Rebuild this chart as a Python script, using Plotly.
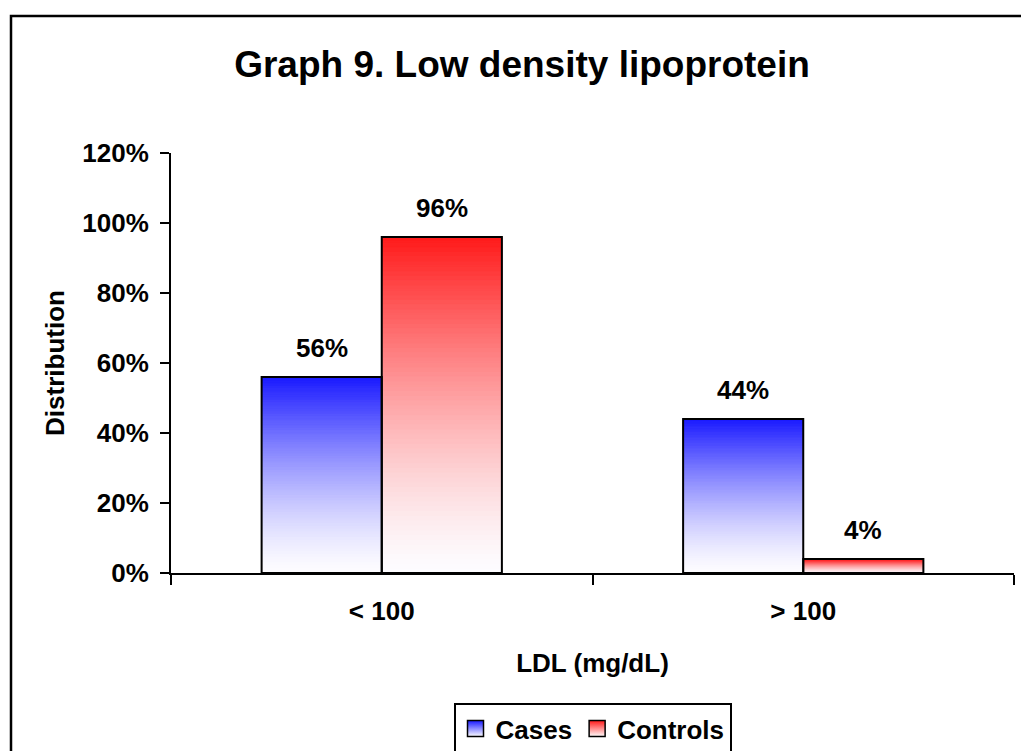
import plotly.graph_objects as go

# ---- data ----
categories = ["< 100", "> 100"]
cases = [0.56, 0.44]
controls = [0.96, 0.04]
series_names = ["Cases", "Controls"]
y_ticks = [0, 0.2, 0.4, 0.6, 0.8, 1.0, 1.2]

# ---- styling ----
FONT = "Arial, 'Liberation Sans', sans-serif"
TOP_COLORS = {"Cases": (26, 26, 255), "Controls": (255, 26, 26)}
BOTTOM = (253, 252, 255)
N_SLICES = 70
GAMMA = 1.4


def mix(top, f):
    f = max(0.0, min(1.0, f)) ** GAMMA
    return "rgb(%d,%d,%d)" % tuple(round(BOTTOM[i] + (top[i] - BOTTOM[i]) * f) for i in range(3))


fig = go.Figure()

for name, vals in zip(series_names, [cases, controls]):
    top = TOP_COLORS[name]
    for k in range(N_SLICES):
        f = (k + 0.5) / N_SLICES
        col = mix(top, f)
        fig.add_trace(go.Bar(
            x=categories,
            y=[v / N_SLICES for v in vals],
            base=[v * k / N_SLICES for v in vals],
            offsetgroup=name,
            marker=dict(color=col, line=dict(color=col, width=1)),
            showlegend=False,
            hoverinfo="skip",
        ))

# outlines
for name, vals in zip(series_names, [cases, controls]):
    fig.add_trace(go.Bar(
        x=categories,
        y=vals,
        offsetgroup=name,
        marker=dict(color="rgba(0,0,0,0)", line=dict(color="black", width=2)),
        showlegend=False,
        name=name,
    ))

# legend entries (colour at top, fading to white at bottom)
for name in series_names:
    top = TOP_COLORS[name]
    fig.add_trace(go.Scatter(
        x=[None], y=[None], mode="markers", name=name,
        marker=dict(symbol="square", size=20, color="rgb(%d,%d,%d)" % top,
                    gradient=dict(type="vertical", color="white"),
                    line=dict(color="black", width=1.5)),
    ))

# data labels
for name, vals, shift in zip(series_names, [cases, controls], [-60, 60]):
    for c, v in zip(categories, vals):
        fig.add_annotation(
            x=c, y=v, text="%d%%" % round(v * 100), showarrow=False,
            xshift=shift, yshift=12, yanchor="bottom",
            font=dict(family=FONT, size=26, color="black", weight="bold"),
        )

# outer border (left & top visible)
fig.add_shape(type="rect", xref="paper", yref="paper",
              x0=(11 - 171) / 843, x1=(1040 - 171) / 843,
              y0=(573 - 780) / 420, y1=(573 - 16) / 420,
              line=dict(color="black", width=2.5), fillcolor="rgba(0,0,0,0)")

fig.update_layout(
    width=1021, height=751,
    margin=dict(l=171, r=7, t=153, b=178, autoexpand=False),
    paper_bgcolor="white", plot_bgcolor="white",
    barmode="group", bargap=0.43, bargroupgap=0,
    font=dict(family=FONT, size=26, color="black", weight="bold"),
    title=dict(text="Graph 9. Low density lipoprotein",
               x=522 / 1021, xref="container", xanchor="center",
               y=(751 - 64) / 751, yref="container", yanchor="middle",
               font=dict(family=FONT, size=37, color="black", weight="bold")),
    showlegend=True,
    legend=dict(orientation="h", x=0.5, xanchor="center", y=-0.31, yanchor="top",
                bordercolor="black", borderwidth=2, bgcolor="white",
                font=dict(family=FONT, size=26, color="black", weight="bold")),
)

fig.update_yaxes(
    range=[0, 1.2], tickvals=y_ticks, tickformat=".0%",
    showline=True, linecolor="black", linewidth=2,
    ticks="outside", ticklen=9, tickwidth=2, tickcolor="black",
    ticklabelstandoff=6,
    showgrid=False, zeroline=False,
    tickfont=dict(family=FONT, size=26, color="black", weight="bold"),
    title=dict(text="Distribution", standoff=10,
               font=dict(family=FONT, size=26, color="black", weight="bold")),
)
fig.update_xaxes(
    type="category", tickson="boundaries",
    showline=True, linecolor="black", linewidth=2,
    ticks="outside", ticklen=10, tickwidth=2, tickcolor="black",
    ticklabelstandoff=14,
    showgrid=False,
    tickfont=dict(family=FONT, size=26, color="black", weight="bold"),
    title=dict(text="LDL (mg/dL)", standoff=29,
               font=dict(family=FONT, size=26, color="black", weight="bold")),
)

fig.write_html("out.html")
